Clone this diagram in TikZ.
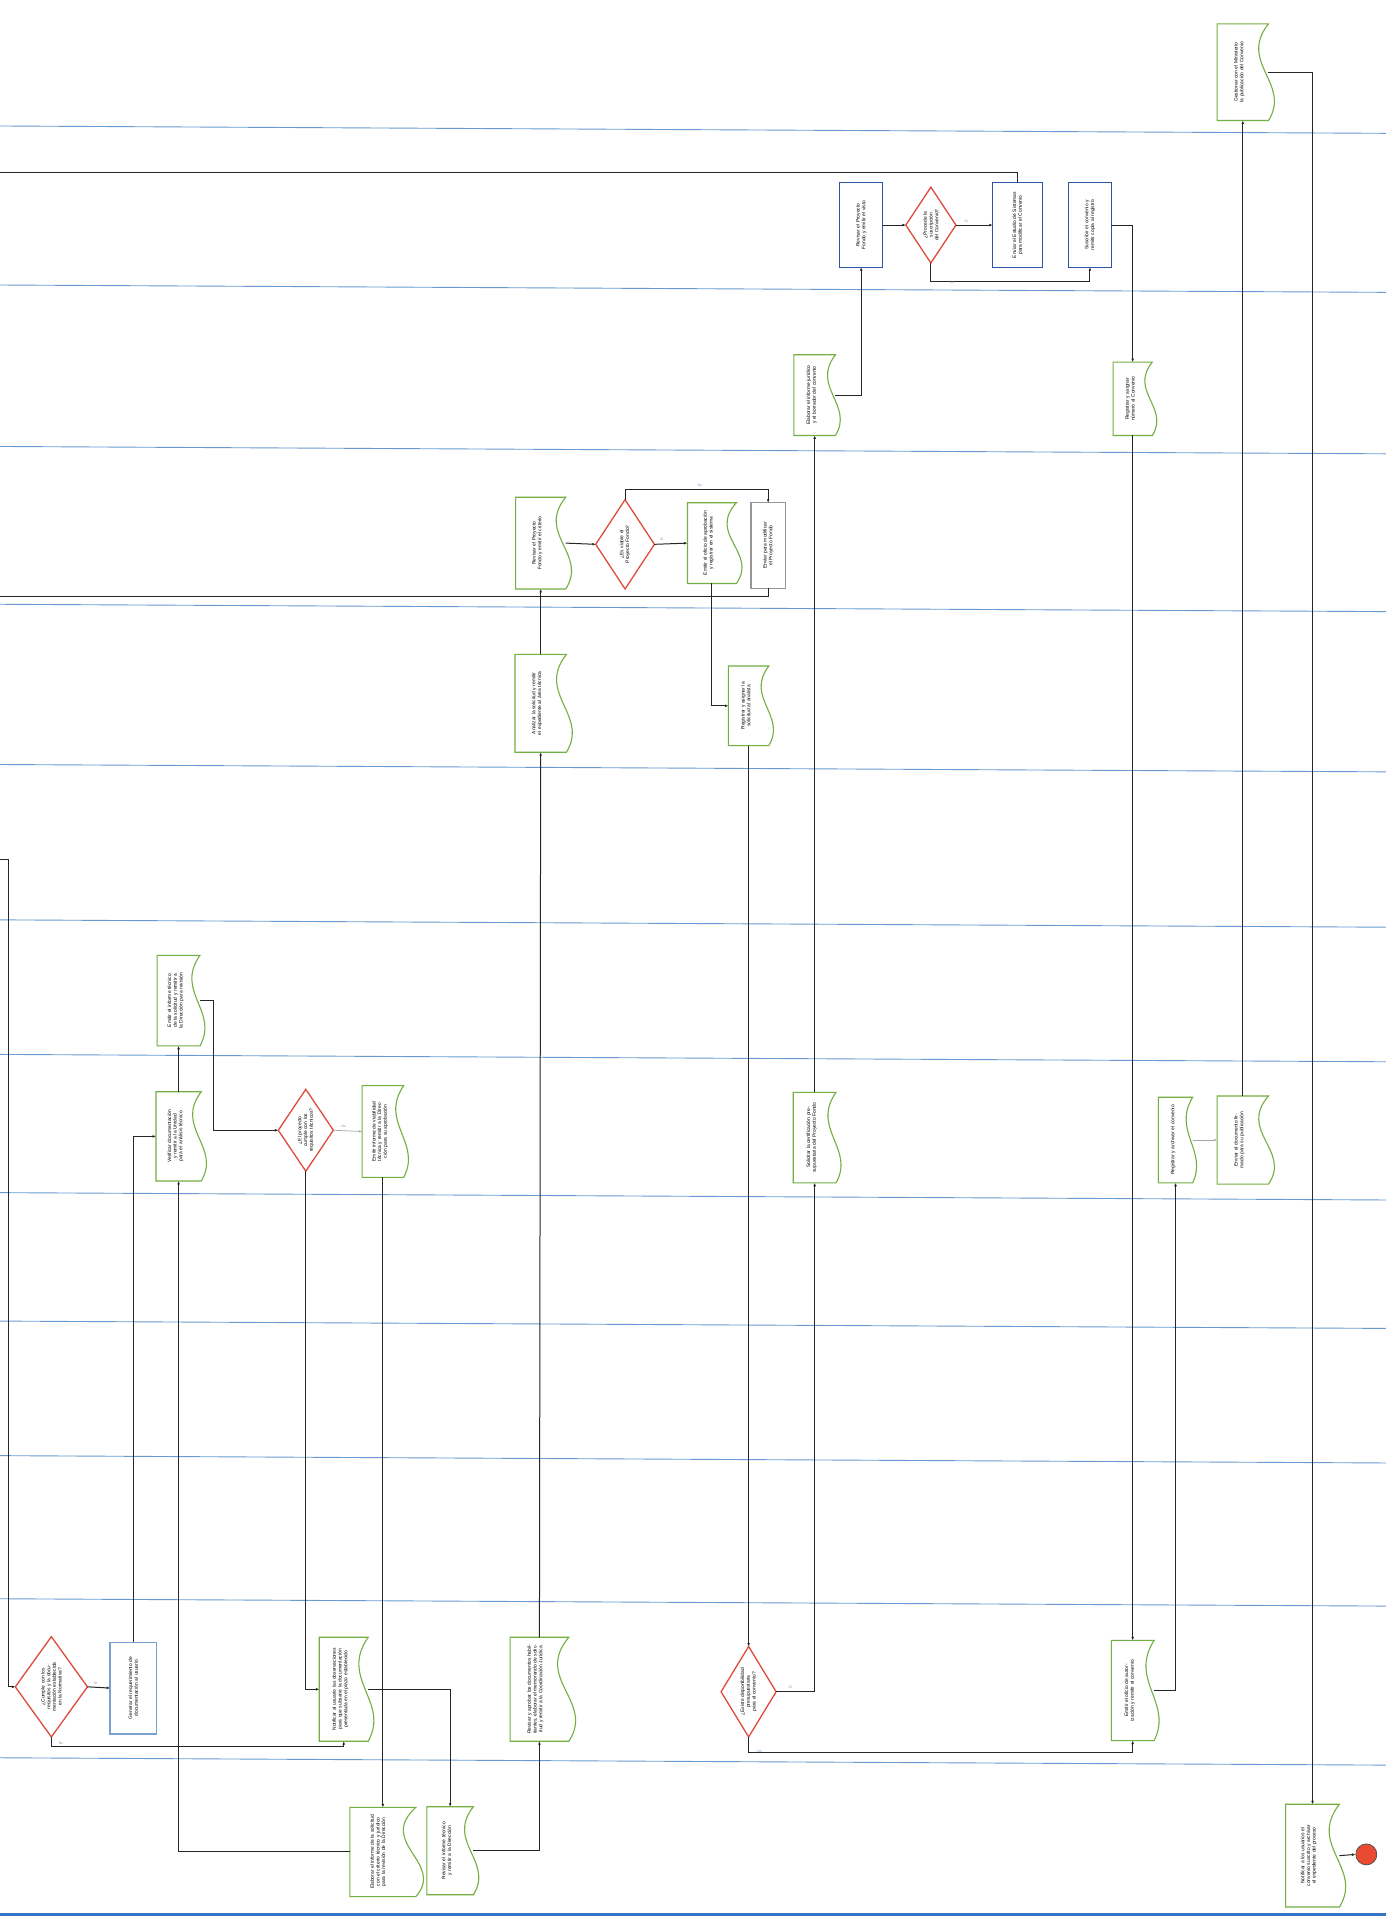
\documentclass[tikz,border=0pt]{standalone}
\usepackage{fontspec}
\setmainfont{Liberation Sans}
\usetikzlibrary{arrows.meta,calc}
\definecolor{lanec}{RGB}{105,155,210}
\definecolor{docg}{RGB}{115,175,65}
\definecolor{redd}{RGB}{222,75,60}
\definecolor{rdk}{RGB}{45,85,165}
\definecolor{rlt}{RGB}{120,160,210}
\definecolor{grayc}{RGB}{150,150,150}
\definecolor{bandc}{RGB}{55,115,200}
\definecolor{endr}{RGB}{232,75,50}
\tikzset{
  lane/.style={draw=lanec, line width=0.9pt},
  conn/.style={draw=black!85, line width=1pt},
  arr/.style={conn, -{Latex[length=3.4pt,width=2.8pt]}},
  arrg/.style={draw=black!35, line width=0.7pt, -{Latex[length=3pt,width=2.4pt]}},
  shapebox/.style={inner sep=0pt, outer sep=0pt, draw=none},
  docb/.style={draw=docg, line width=1.1pt, fill=white},
  diab/.style={draw=redd, line width=1.3pt, fill=white},
  txt/.style={font=\fontsize{4.9}{5.7}\selectfont, align=center, inner sep=0pt},
  lbl/.style={font=\fontsize{3.4}{3.8}\selectfont, text=black!45, inner sep=0.5pt},
  endc/.style={circle, draw=black!70, fill=endr, line width=0.7pt, minimum size=21pt, inner sep=0pt}
}
\newcommand{\mkdoc}[6]{%
  \node[shapebox, minimum width={#4*1.2233pt}, minimum height={#5*1.2233pt}] (#1) at (#2,#3) {};
  \draw[docb] (#1.north west) -- (#1.north east) .. controls ($(#1.north east)+(-0.6*#4,0.4*#5)$) and ($(#1.north east)+(0.45*#4,0.62*#5)$) .. (#1.south east) -- (#1.south west) -- cycle;
  \node[txt, rotate=90, text width={(#5-12)*1.2233pt}] (#1t) at ($(#1.center)+(-0.07*#4,0)$) {#6};
}
\newcommand{\mkrect}[7]{%
  \node[shapebox, draw=#6, line width=1.2pt, fill=white, minimum width={#4*1.2233pt}, minimum height={#5*1.2233pt}] (#1) at (#2,#3) {};
  \node[txt, rotate=90, text width={(#5-12)*1.2233pt}] (#1t) at (#1.center) {#7};
}
\newcommand{\mkdia}[6]{%
  \node[shapebox, minimum width={#4*1.2233pt}, minimum height={#5*1.2233pt}] (#1) at (#2,#3) {};
  \draw[diab] (#1.north) -- (#1.east) -- (#1.south) -- (#1.west) -- cycle;
  \node[txt, rotate=90, text width={0.55*#5*1.2233pt}] (#1t) at (#1.center) {#6};
}
\begin{document}
\begin{tikzpicture}[x=1.2233pt,y=-1.2233pt]
\useasboundingbox[fill=white] (0,0) rectangle (1133,1568);
% lanes
\foreach \yy in {103,233,365,494,625,752,862,975,1080,1190,1307,1437}
  \draw[lane] (0,\yy) -- (1133,\yy+6);
\draw[draw=bandc, line width=3pt] (0,1565) -- (1133,1565);

% nodes
\mkdia{d1}{42}{1379}{59}{82}{¿Cumple con los requisitos y la documentación establecida en la Normativa?}
\mkrect{r1}{109}{1380}{38}{75}{rlt}{Generar el requerimiento de documentación al usuario}
\mkdoc{b3}{146}{929}{37}{73}{Verificar documentación y remitir a la Unidad para el análisis técnico}
\mkdoc{b4}{146}{818}{35}{74}{Emitir el informe técnico de la solicitud y remitir a la Dirección para revisión}
\mkdia{d2}{250}{924}{45}{67}{¿El proyecto cumple con los requisitos técnicos?}
\mkdoc{b5}{313}{925}{34}{75}{Emitir informe de viabilidad técnica y remitir a la Dirección para su aprobación}
\mkdoc{b6}{281}{1381}{40}{85}{Notificar al usuario las observaciones para que subsane la documentación presentada en el plazo establecido}
\mkdoc{b7}{313}{1514}{54}{73}{Elaborar el informe de la solicitud con el criterio técnico y jurídico para la revisión de la Dirección}
\mkdoc{b8}{368}{1513}{38}{72}{Revisar el informe técnico y remitir a la Dirección}
\mkdoc{b9}{441}{1381}{48}{85}{Revisar y aprobar los documentos habilitantes, elaborar el memorando de solicitud y remitir a la Coordinación Jurídica}
\mkdoc{b10}{442}{575}{42}{80}{Analizar la solicitud y remitir el expediente al área técnica}
\mkdoc{b11}{442}{444}{41}{75}{Revisar el Proyecto Fondo y emitir el criterio}
\mkdia{d3}{511}{445}{48}{73}{¿Es viable el Proyecto Fondo?}
\mkdoc{b12}{582}{444}{40}{66}{Emitir el oficio de aprobación y registrar en el sistema}
\mkrect{b13}{628}{446}{28}{70}{grayc}{Enviar para modificar el Proyecto Fondo}
\mkdoc{b14}{612}{577}{33}{65}{Registrar y asignar la solicitud al analista}
\mkdia{d4}{612}{1383}{45}{74}{¿Existe disponibilidad presupuestaria para el convenio?}
\mkdoc{b15}{666}{930}{35}{74}{Solicitar la certificación presupuestaria del Proyecto Fondo}
\mkdoc{b16}{926}{1382}{35}{82}{Emitir el oficio de autorización y remitir el convenio}
\mkdoc{b17}{666}{323}{34}{66}{Elaborar el informe jurídico y el borrador del convenio}
\mkrect{r2}{704}{184}{35}{69}{rdk}{Revisar el Proyecto Fondo y emitir el visto}
\mkdia{d5}{761}{184}{41}{62}{¿Procede la suscripción del Convenio?}
\mkrect{r3}{832}{184}{41}{70}{rdk}{Enviar el Estudio de Sistemas para modificar el Convenio}
\mkrect{r4}{891}{184}{35}{69}{rdk}{Suscribir el convenio y remitir copia al registro}
\mkdoc{b18}{926}{326}{32}{60}{Registrar y asignar número al Convenio}
\mkdoc{b19}{961}{932}{28}{70}{Registrar y archivar el convenio}
\mkdoc{b20}{1016}{932}{42}{72}{Enviar el documento firmado para su publicación}
\mkdoc{b21}{1016}{59}{42}{79}{Gestionar con el Ministerio la publicación del Convenio}
\mkdoc{b22}{1073}{1517}{44}{84}{Notificar a los usuarios el convenio suscrito y archivar el expediente del proceso}
\node[endc] (e) at (1117,1516) {};

% free ends
\coordinate (L1) at (0,703);
\coordinate (L1b) at (7,703);
\coordinate (L2) at (0,488);
\coordinate (L3) at (0,141);

% connectors
\draw[arr] (L1) -- (L1b) |- (d1.west);
\draw[arr] (d1.east) -- (r1.west);
\draw[arr] (r1.north) |- (b3.west);
\draw[arr] (d1.south) -- ++(0,8) -| (b6.south);
\draw[arr] (b3.north) -- (b4.south);
\draw[arr] (b4.east) -- ++(11,0) |- (d2.west);
\draw[arrg] (d2.east) -- (b5.west);
\draw[arr] (d2.south) |- (b6.west);
\draw[arr] (b5.south) -- (b7.north);
\draw[arr] (b7.west) -| (b3.south);
\draw[arr] (b6.east) -| (b8.north);
\draw[arr] (b8.east) -| (b9.south);
\draw[arr] (b9.north) -- (b10.south);
\draw[arr] (b10.north) -- (b11.south);
\draw[arr] (b11.east) -- (d3.west);
\draw[arr] (d3.east) -- (b12.west);
\draw[arr] (d3.north) -- ++(0,-8) -| (b13.north);
\draw[conn] (b13.south) |- (L2);
\draw[arr] (b12.south) |- (b14.west);
\draw[arr] (b14.south) -- (d4.north);
\draw[arr] (d4.east) -| (b15.south);
\draw[arr] (d4.south) -- ++(0,13) -| (b16.south);
\draw[arr] (b15.north) -- (b17.south);
\draw[arr] (b17.east) -| (r2.south);
\draw[arr] (r2.east) -- (d5.west);
\draw[arr] (d5.east) -- (r3.west);
\draw[conn] (r3.north) |- (L3);
\draw[arr] (d5.south) -- ++(0,15) -| (r4.south);
\draw[arr] (r4.east) -| (b18.north);
\draw[arr] (b18.south) -- (b16.north);
\draw[arr] (b16.east) -| (b19.south);
\draw[arrg] (b19.east) -- (b20.west);
\draw[arr] (b20.north) -- (b21.south);
\draw[arr] (b21.east) -| (b22.north);
\draw[arr] (b22.east) -- (e.west);

% decision labels
\node[lbl] (l1) at (78,1376) {Sí};
\node[lbl] (l2) at (50,1425) {No};
\node[lbl] (l3) at (281,921) {No};
\node[lbl] (l4) at (541,441) {Sí};
\node[lbl, text=lanec] (l5) at (572,397) {No};
\node[lbl] (l6) at (646,1379) {Sí};
\node[lbl, text=lanec] (l7) at (621,1432) {No};
\node[lbl] (l8) at (790,181) {Sí};
\node[lbl] (l9) at (778,231) {No};
\end{tikzpicture}
\end{document}
